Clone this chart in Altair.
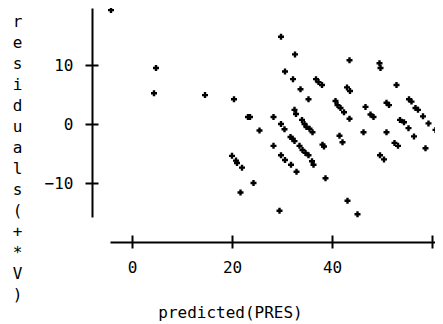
import altair as alt
import pandas as pd

predicted = [-4.2, 4.8, 4.4, 14.6, 20.4, 23.2, 23.6, 25.5, 20.0, 20.8, 21.0, 22.0, 24.3, 21.7,
             29.8, 32.6, 30.6, 32.2, 33.7, 35.3, 36.8, 37.3, 38.0, 43.5, 49.5, 49.7, 43.0, 43.6,
             52.9, 40.7, 41.1, 41.7, 42.4, 43.5, 28.3, 32.5, 32.8, 34.0, 34.5, 34.9, 35.5, 36.1,
             29.8, 30.5, 31.7, 32.1, 32.5, 33.5, 34.1, 34.7, 35.3, 36.0, 36.3, 28.3, 29.8, 30.6,
             31.8, 32.9, 38.1, 38.4, 38.7, 41.5, 42.1, 46.3, 46.7, 47.7, 48.3, 50.9, 51.4, 50.9,
             49.6, 50.4, 55.4, 55.9, 53.6, 54.4, 55.3, 56.7, 57.2, 58.2, 59.3, 60.7, 61.5, 52.5,
             53.2, 56.4, 58.7, 29.5, 43.1, 45.1]
residuals = [19.3, 9.5, 5.2, 4.9, 4.2, 1.2, 1.2, -1.1, -5.4, -6.2, -6.6, -7.4, -10.0, -11.6,
             14.8, 11.8, 8.9, 7.6, 5.9, 4.2, 7.6, 7.1, 6.6, 10.8, 10.3, 9.5, 6.2, 5.6,
             6.6, 3.9, 3.2, 2.7, 2.0, 0.9, 1.2, 2.4, 1.7, 0.7, 0.0, -0.5, -0.8, -1.4,
             0.0, -0.9, -2.2, -2.5, -2.9, -3.7, -4.4, -4.9, -5.3, -6.3, -6.9, -3.7, -5.3, -6.1,
             -6.9, -8.1, -3.5, -3.8, -9.2, -2.0, -3.1, -1.4, 2.9, 1.6, 1.2, 3.6, 3.2, -1.4,
             -5.3, -6.0, 4.2, 3.8, 0.7, 0.3, -0.7, 2.7, 2.4, 1.3, 0.1, -1.0, -2.0, -3.2,
             -3.7, -2.1, -4.1, -14.7, -13.0, -15.3]

x_ticks = [0, 20, 40, 60]
y_ticks = [-10, 0, 10]
x_title = "predicted(PRES)"
y_title = list("residuals(+*V)")

df = pd.DataFrame({"predicted": predicted, "residuals": residuals})

FONT = "DejaVu Sans Mono"
xscale = alt.Scale(domain=[-4.4, 60.6], nice=False, zero=False)
yscale = alt.Scale(domain=[-15.76, 19.66], nice=False, zero=False)

base = alt.Chart(df)

pts = base.mark_point(shape="cross", filled=True, size=36, color="black",
                      opacity=1, strokeWidth=0).encode(
    x=alt.X("predicted:Q", scale=xscale,
            axis=alt.Axis(values=x_ticks, offset=25, tickSize=6, labelPadding=11,
                          labelExpr="datum.value == 60 ? '' : datum.label",
                          title=x_title, titleX=120, titleY=75, titleAlign="center",
                          titleBaseline="alphabetic")),
    y=alt.Y("residuals:Q", scale=yscale,
            axis=alt.Axis(values=y_ticks, offset=18, tickSize=7, labelPadding=12,
                          title=y_title, titleAngle=0, titleX=-75, titleY=5,
                          titleBaseline="top", titleAlign="center", titleLineHeight=21)),
)

inner = base.mark_point(opacity=0).encode(
    x=alt.X("predicted:Q", scale=xscale,
            axis=alt.Axis(orient="bottom", values=x_ticks, offset=18, tickSize=7,
                          labels=False, domain=False, title="")),
    y=alt.Y("residuals:Q", scale=yscale,
            axis=alt.Axis(orient="left", values=y_ticks, offset=12, tickSize=6,
                          labels=False, domain=False, title="")),
)

chart = alt.layer(pts, inner).resolve_axis(x="independent", y="independent").properties(
    width=325, height=209,
    autosize=alt.AutoSizeParams(type="none"),
    padding={"left": 102, "top": 0, "right": 0, "bottom": 107},
).configure_axis(
    labelFont=FONT, titleFont=FONT, labelFontSize=16, titleFontSize=16,
    labelFontWeight="normal", titleFontWeight="normal",
    labelColor="black", titleColor="black", domainColor="black", tickColor="black",
    domainWidth=2, tickWidth=2, grid=False,
).configure_view(strokeWidth=0)

chart.save("out.html", embed_options={"renderer": "svg", "actions": False})
